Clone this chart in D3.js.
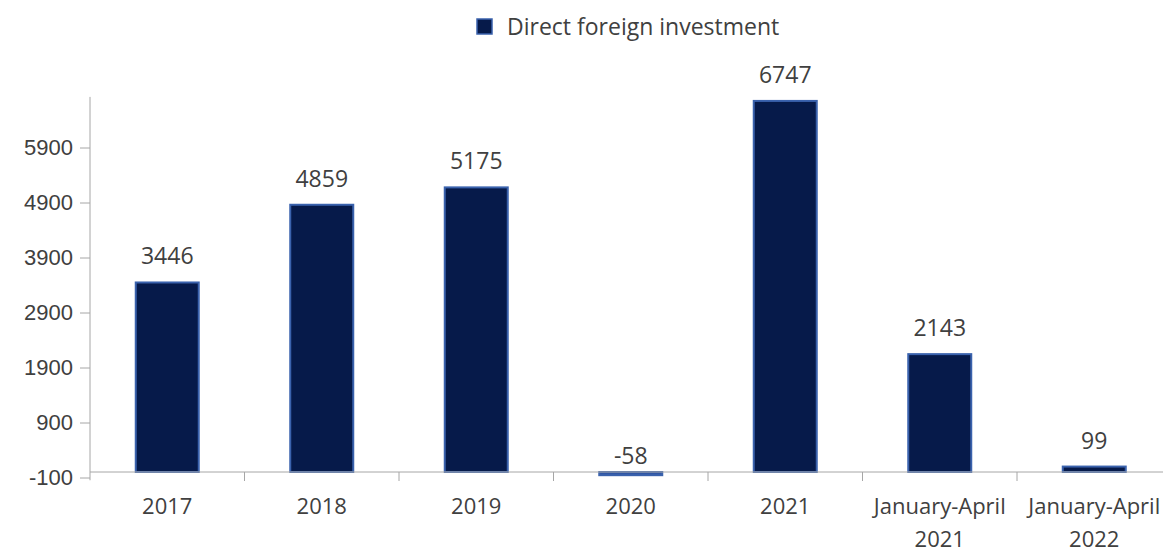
<!DOCTYPE html>
<html><head><meta charset="utf-8">
<script src="https://cdn.jsdelivr.net/npm/d3@7"></script>
<style>body{margin:0;background:#fff;} svg{display:block;font-family:"Open Sans","Noto Sans",sans-serif;}</style>
</head><body>
<svg id="c" width="1163" height="548"></svg>
<script>
const categories = [["2017"],["2018"],["2019"],["2020"],["2021"],["January-April","2021"],["January-April","2022"]];
const values = [3446, 4859, 5175, -58, 6747, 2143, 99];
const yTicks = [-100, 900, 1900, 2900, 3900, 4900, 5900];
const seriesName = "Direct foreign investment";

const svg = d3.select("#c");
const left = 90, right = 1171.5;
const y = d3.scaleLinear().domain([0, 5900]).range([472, 147.5]);
const x = d3.scaleBand().domain(d3.range(categories.length)).range([left, right]).paddingInner(0).paddingOuter(0);
const barW = 63;

// y axis
const yAxis = svg.append("g").attr("transform", `translate(${left},0)`)
  .call(d3.axisLeft(y).tickValues(yTicks).tickSize(10).tickPadding(7).tickFormat(d => String(d)));
yAxis.select(".domain").attr("d", `M0,${y(6820)}V${y(-150)}`).attr("stroke", "#a6a6a6");
yAxis.selectAll(".tick line").attr("stroke", "#a6a6a6");
yAxis.selectAll(".tick text").attr("fill", "#404040").style("font-size", "22px");

// bars
svg.append("g").selectAll("rect").data(values).join("rect")
  .attr("x", (d, i) => x(i) + x.bandwidth()/2 - barW/2)
  .attr("width", barW)
  .attr("y", d => y(Math.max(d, 0)))
  .attr("height", d => Math.max(Math.abs(y(d) - y(0)), 1))
  .attr("fill", (d) => d < 0 ? "#2f55a4" : "#061a4a")
  .attr("stroke", "#3a62ad").attr("stroke-width", 2);

// x axis
const xAxis = svg.append("g").attr("transform", `translate(0,${y(0)})`);
xAxis.append("line").attr("x1", left).attr("x2", right).attr("stroke", "#a6a6a6").attr("stroke-width", 1);
const tickXs = d3.range(1, categories.length).map(i => x(i));
xAxis.selectAll("line.t").data(tickXs).join("line").attr("class","t")
  .attr("x1", d => d).attr("x2", d => d).attr("y1", 0).attr("y2", 9).attr("stroke", "#a6a6a6");
const lab = xAxis.selectAll("text").data(categories).join("text")
  .attr("text-anchor", "middle").attr("fill", "#404040").style("font-size", "22px")
  .attr("x", (d, i) => x(i) + x.bandwidth()/2);
lab.selectAll("tspan").data(d => d).join("tspan")
  .attr("x", function(){ return this.parentNode.getAttribute("x"); })
  .attr("y", (d, j) => 42 + j * 33).text(d => d);

// data labels
svg.append("g").selectAll("text").data(values).join("text")
  .attr("x", (d, i) => x(i) + x.bandwidth()/2)
  .attr("y", d => y(Math.max(d, 0)) - (d < 0 ? 8 : 18))
  .attr("text-anchor", "middle").attr("fill", "#404040").style("font-size", "23px")
  .text(d => d);

// legend
const lg = svg.append("g");
lg.append("rect").attr("x", 477).attr("y", 19).attr("width", 15).attr("height", 15)
  .attr("fill", "#061a4a").attr("stroke", "#3a62ad").attr("stroke-width", 1.5);
lg.append("text").attr("x", 507).attr("y", 35).attr("fill", "#404040").style("font-size", "23px").text(seriesName);
</script>
</body></html>
